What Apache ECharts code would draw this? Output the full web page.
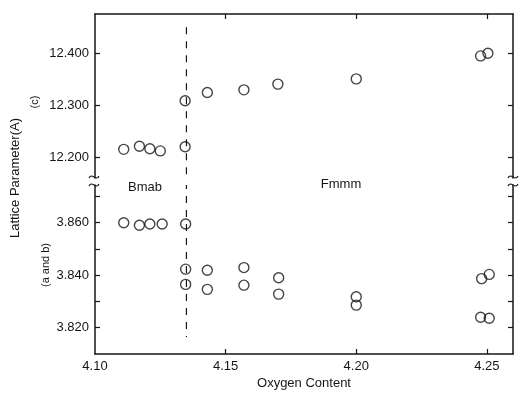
<!DOCTYPE html>
<html>
<head>
<meta charset="utf-8">
<script src="https://cdn.jsdelivr.net/npm/echarts@6/dist/echarts.min.js"></script>
<style>
  html, body { margin: 0; padding: 0; background: #fff; }
  #chart { width: 520px; height: 394px; }
</style>
</head>
<body>
<div id="chart"></div>
<script>
// oxygen content ticks
const xTicks = [4.10, 4.15, 4.20, 4.25];
// c parameter (upper panel)
const cTicks = [12.2, 12.3, 12.4];
const cOxygen = [4.111, 4.117, 4.121, 4.125, 4.1345, 4.1345, 4.143, 4.157, 4.170, 4.200, 4.2476, 4.2504];
const cValues = [12.216, 12.222, 12.217, 12.213, 12.221, 12.309, 12.325, 12.330, 12.341, 12.351, 12.395, 12.400];
// a and b parameters (lower panel)
const abTicks = [3.82, 3.83, 3.84, 3.85, 3.86, 3.87];
const abTickLabels = [3.82, 3.84, 3.86];
const abOxygen = [4.111, 4.117, 4.121, 4.1257, 4.1347, 4.1347, 4.1347, 4.143, 4.143, 4.157, 4.157, 4.1703, 4.1703,
  4.200, 4.200, 4.248, 4.2509, 4.2476, 4.2509];
const abValues = [3.8600, 3.8590, 3.8595, 3.8595, 3.8595, 3.8423, 3.8365, 3.8419, 3.8346, 3.8429, 3.8362, 3.8390, 3.8328,
  3.8318, 3.8286, 3.8387, 3.8403, 3.8240, 3.8236];
// Bmab / Fmmm phase boundary (dashed line)
const phaseBoundary = 4.135;
const boundaryC = [12.450, 12.1611];
const boundaryAB = [3.8744, 3.8165];

const chart = echarts.init(document.getElementById("chart"));

const ink = "#161616";
const font = "'Liberation Sans', Arial, sans-serif";

const pairs = (xs, ys) => xs.map((x, i) => [x, ys[i]]);

const circle = {
  symbol: "circle",
  symbolSize: 10,
  itemStyle: { color: "rgba(0,0,0,0)", borderColor: ink, borderWidth: 1.4 },
};

const frameLine = { show: true, lineStyle: { color: ink, width: 1.5 } };

const xBase = {
  type: "value",
  min: 4.10,
  max: 4.26,
  axisLine: frameLine,
  axisTick: { show: true, inside: true, length: 5, customValues: [4.15, 4.20, 4.25], lineStyle: { color: ink, width: 1.2 } },
  splitLine: { show: false },
};

const yBase = (min, max, ticks) => ({
  type: "value",
  min,
  max,
  axisLine: frameLine,
  axisTick: { show: true, inside: true, length: 5, customValues: ticks, lineStyle: { color: ink, width: 1.2 } },
  splitLine: { show: false },
});

// small wavy break mark centred on (x, y)
const wave = (x, y) => ({
  type: "bezierCurve",
  shape: { x1: x - 5, y1: y + 1, cpx1: x - 2, cpy1: y - 5, cpx2: x + 2, cpy2: y + 5, x2: x + 5, y2: y - 1 },
  style: { fill: null, stroke: ink, lineWidth: 1.2 },
});

const option = {
  animation: false,
  backgroundColor: "#fff",
  textStyle: { fontFamily: font, color: ink },
  grid: [
    { left: 95, right: 7, top: 14, height: 164 },
    { left: 95, right: 7, top: 185, height: 169 },
  ],
  xAxis: [
    { ...xBase, gridIndex: 0, position: "top", axisLabel: { show: false } },
    {
      ...xBase,
      gridIndex: 1,
      position: "bottom",
      axisLabel: {
        customValues: xTicks,
        formatter: (v) => v.toFixed(2),
        fontSize: 13,
        color: ink,
        margin: 6,
        fontFamily: font,
      },
      name: "Oxygen Content",
      nameLocation: "middle",
      nameGap: 23,
      nameTextStyle: { fontSize: 13, color: ink, fontFamily: font },
    },
  ],
  yAxis: [
    {
      ...yBase(12.1611, 12.4753, cTicks),
      gridIndex: 0,
      position: "left",
      axisLabel: { customValues: cTicks, formatter: (v) => v.toFixed(3), fontSize: 13, color: ink, margin: 6, fontFamily: font },
    },
    { ...yBase(12.1611, 12.4753, cTicks), gridIndex: 0, position: "right", axisLabel: { show: false } },
    {
      ...yBase(3.80998, 3.87436, abTicks),
      gridIndex: 1,
      position: "left",
      axisLabel: { customValues: abTickLabels, formatter: (v) => v.toFixed(3), fontSize: 13, color: ink, margin: 6, fontFamily: font },
    },
    { ...yBase(3.80998, 3.87436, abTicks), gridIndex: 1, position: "right", axisLabel: { show: false } },
  ],
  series: [
    {
      type: "line",
      xAxisIndex: 0,
      yAxisIndex: 0,
      data: boundaryC.map((v) => [phaseBoundary, v]),
      symbol: "none",
      lineStyle: { color: ink, width: 1.2, type: [7, 7] },
    },
    {
      type: "line",
      xAxisIndex: 1,
      yAxisIndex: 2,
      data: boundaryAB.map((v) => [phaseBoundary, v]),
      symbol: "none",
      lineStyle: { color: ink, width: 1.2, type: [7, 7], dashOffset: 3 },
    },
    { type: "scatter", xAxisIndex: 0, yAxisIndex: 0, data: pairs(cOxygen, cValues), ...circle },
    { type: "scatter", xAxisIndex: 1, yAxisIndex: 2, data: pairs(abOxygen, abValues), ...circle },
  ],
  graphic: [
    {
      type: "text",
      x: 15,
      y: 178,
      rotation: Math.PI / 2,
      style: { text: "Lattice Parameter(A)", font: `13px ${font}`, fill: ink, align: "center", verticalAlign: "middle" },
    },
    {
      type: "text",
      x: 35,
      y: 102,
      rotation: Math.PI / 2,
      style: { text: "(c)", font: `11px ${font}`, fill: ink, align: "center", verticalAlign: "middle" },
    },
    {
      type: "text",
      x: 46,
      y: 265,
      rotation: Math.PI / 2,
      style: { text: "(a and b)", font: `11px ${font}`, fill: ink, align: "center", verticalAlign: "middle" },
    },
    {
      type: "text",
      x: 145,
      y: 187,
      style: { text: "Bmab", font: `13px ${font}`, fill: ink, align: "center", verticalAlign: "middle" },
    },
    {
      type: "text",
      x: 341,
      y: 184,
      style: { text: "Fmmm", font: `13px ${font}`, fill: ink, align: "center", verticalAlign: "middle" },
    },
    // axis break marks
    wave(94, 177),
    wave(94, 185),
    wave(513, 177),
    wave(513, 185),
  ],
};

chart.setOption(option);
</script>
</body>
</html>
